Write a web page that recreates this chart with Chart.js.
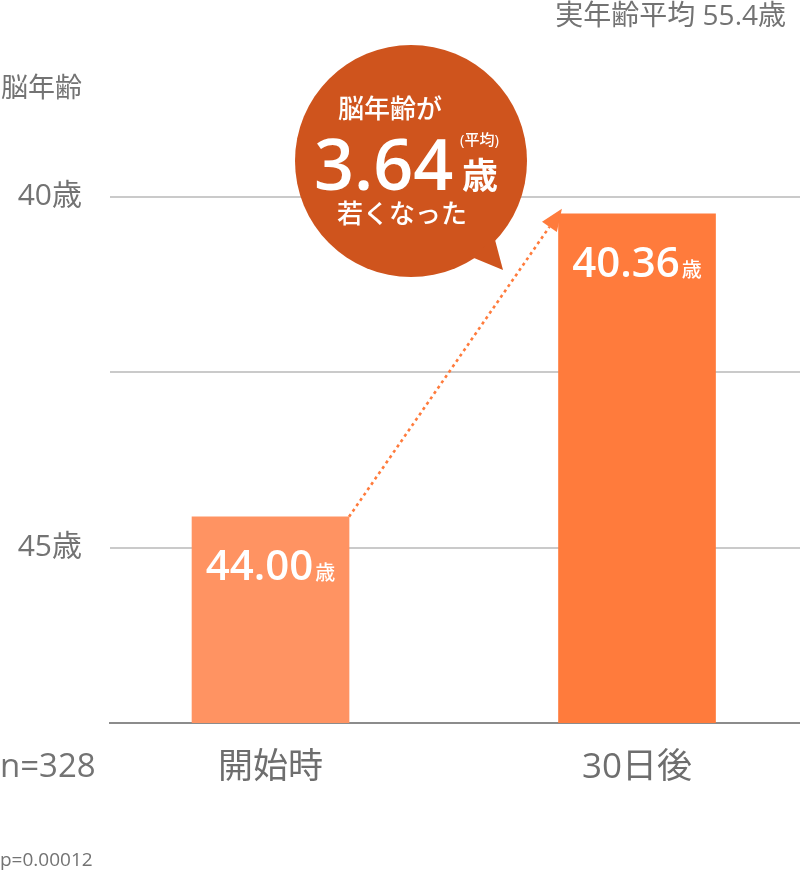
<!DOCTYPE html>
<html lang="ja">
<head>
<meta charset="utf-8">
<script src="https://cdn.jsdelivr.net/npm/chart.js@4.4.1/dist/chart.umd.min.js"></script>
<style>
  html, body { margin: 0; padding: 0; background: #ffffff; }
  #wrap { width: 800px; height: 872px; position: relative; }
</style>
</head>
<body>
<div id="wrap"><canvas id="c" width="800" height="872"></canvas></div>
<script>
// ---- data ----
const categories = ['開始時', '30日後'];
const categoryPositions = [0, 1];
const barTopValues = [44.56, 40.24];      // bar top positions on the brain-age axis
const barLabels = ['44.00', '40.36'];     // printed values
const axisBaseValue = 47.5;               // bottom of the axis
const axisTopValue = 37.5;
const gridValues = [40, 42.5, 45, 47.5];
const tickLabelValues = [40, 45];
const tickUnit = '歳';
const diffValue = '3.64';
const sampleSize = 'n=328';
const pValue = 'p=0.00012';
const realAgeNote = '実年齢平均 55.4歳';
const axisTitle = '脳年齢';

const FONT = "'Open Sans', 'Noto Sans CJK JP', sans-serif";
const GRAY = '#737373';
const barColors = ['#FF9362', '#FF7B3C'];
const BUBBLE = '#CF541D';

function barTop(bar) { return Math.min(bar.y, bar.base); }

const annotations = {
  id: 'annotations',
  beforeDatasetsDraw(chart) {
    const ctx = chart.ctx;
    const bars = chart.getDatasetMeta(0).data;
    const a = bars[0], b = bars[1];
    const sx = a.x + a.width / 2, sy = barTop(a);
    const ex = b.x - b.width / 2, ey = barTop(b);
    const dx = ex - sx, dy = ey - sy, len = Math.hypot(dx, dy);
    const ux = dx / len, uy = dy / len;
    const px = -uy, py = ux;
    const tipX = ex + ux * 6, tipY = ey + uy * 6;
    const bx = tipX - ux * 22, by = tipY - uy * 22;
    ctx.save();
    ctx.strokeStyle = barColors[1];
    ctx.lineWidth = 2.6;
    ctx.setLineDash([3, 3.5]);
    ctx.beginPath();
    ctx.moveTo(sx, sy);
    ctx.lineTo(bx, by);
    ctx.stroke();
    ctx.setLineDash([]);
    ctx.fillStyle = barColors[1];
    ctx.beginPath();
    ctx.moveTo(tipX, tipY);
    ctx.lineTo(bx + px * 9, by + py * 9);
    ctx.lineTo(bx - px * 9, by - py * 9);
    ctx.closePath();
    ctx.fill();
    ctx.restore();
  },
  afterDatasetsDraw(chart) {
    const ctx = chart.ctx;
    const bars = chart.getDatasetMeta(0).data;
    ctx.save();
    // bar value labels
    bars.forEach((bar, i) => {
      const num = barLabels[i];
      ctx.font = `600 42px ${FONT}`;
      const w1 = ctx.measureText(num).width;
      ctx.font = `500 20px ${FONT}`;
      const w2 = ctx.measureText(tickUnit).width;
      const x0 = bar.x - (w1 + w2 + 2) / 2;
      const base = barTop(bar) + 63;
      ctx.fillStyle = '#ffffff';
      ctx.textAlign = 'left';
      ctx.textBaseline = 'alphabetic';
      ctx.font = `600 42px ${FONT}`;
      ctx.fillText(num, x0, base);
      ctx.font = `500 20px ${FONT}`;
      ctx.fillText(tickUnit, x0 + w1 + 2, base);
    });

    // speech bubble
    const cx = 411, cy = 161, r = 116;
    ctx.fillStyle = BUBBLE;
    ctx.beginPath();
    ctx.arc(cx, cy, r, 0, Math.PI * 2);
    ctx.fill();
    ctx.beginPath();
    ctx.moveTo(494, 236);
    ctx.lineTo(503, 270);
    ctx.lineTo(474, 258);
    ctx.closePath();
    ctx.fill();

    ctx.fillStyle = '#ffffff';
    ctx.textAlign = 'left';
    ctx.textBaseline = 'alphabetic';
    ctx.font = `500 26px ${FONT}`;
    ctx.fillText('脳年齢が', 338, 118);
    ctx.font = `600 70px ${FONT}`;
    const wd = ctx.measureText(diffValue).width;
    ctx.fillText(diffValue, 314, 190);
    ctx.font = `bold 36px ${FONT}`;
    ctx.fillText('歳', Math.max(462, 314 + wd + 4), 189);
    ctx.font = `500 15px ${FONT}`;
    ctx.fillText('(平均)', 460, 145);
    ctx.font = `500 26px ${FONT}`;
    ctx.fillText('若くなった', 337, 223);

    // static notes
    ctx.fillStyle = GRAY;
    ctx.textBaseline = 'middle';
    ctx.font = `400 27px ${FONT}`;
    ctx.textAlign = 'left';
    ctx.fillText(axisTitle, 1, 89);
    ctx.textAlign = 'right';
    ctx.font = `400 28px ${FONT}`;
    ctx.fillText(realAgeNote, 786, 17);
    ctx.textAlign = 'left';
    ctx.font = `400 33px ${FONT}`;
    ctx.fillText(sampleSize, 0, 768);
    ctx.font = `400 19px ${FONT}`;
    ctx.fillText(pValue, 0, 861);
    ctx.restore();
  }
};

new Chart(document.getElementById('c'), {
  type: 'bar',
  data: {
    datasets: [{
      data: categoryPositions.map((x, i) => ({ x: x, y: [axisBaseValue, barTopValues[i]] })),
      backgroundColor: barColors,
      borderWidth: 0,
      borderSkipped: false,
      barThickness: 157
    }]
  },
  options: {
    responsive: false,
    animation: false,
    devicePixelRatio: 1,
    layout: { padding: { top: 21.5, right: 0, left: 0, bottom: 0 } },
    plugins: { legend: { display: false }, tooltip: { enabled: false } },
    scales: {
      x: {
        type: 'linear',
        offset: false,
        bounds: 'data',
        min: -0.438,
        max: 1.4447,
        grid: { display: false, drawTicks: false, offset: false },
        border: { display: true, color: '#8c8c8c', width: 2 },
        afterBuildTicks(scale) { scale.ticks = categoryPositions.map(v => ({ value: v })); },
        afterFit(scale) {
          scale.height = 149;
          scale.paddingLeft = 0; scale.paddingRight = 0;
        },
        ticks: {
          padding: 24,
          color: '#6e6e6e',
          font: { family: FONT, size: 35, weight: '400' },
          callback: (v) => categories[categoryPositions.indexOf(v)] ?? ''
        }
      },
      y: {
        type: 'linear',
        reverse: true,
        min: axisTopValue,
        max: axisBaseValue,
        border: { display: false },
        grid: {
          drawTicks: false,
          lineWidth: 2,
          color: (c) => (c.tick && c.tick.value === axisBaseValue) ? 'rgba(0,0,0,0)' : '#cacaca'
        },
        afterBuildTicks(scale) { scale.ticks = gridValues.map(v => ({ value: v })); },
        afterFit(scale) {
          scale.width = 110;
          scale.paddingTop = 0; scale.paddingBottom = 0;
        },
        ticks: {
          padding: 28,
          color: GRAY,
          font: { family: FONT, size: 30, weight: '400' },
          callback: (v) => tickLabelValues.includes(v) ? v + tickUnit : ''
        }
      }
    }
  },
  plugins: [annotations]
});
</script>
</body>
</html>
